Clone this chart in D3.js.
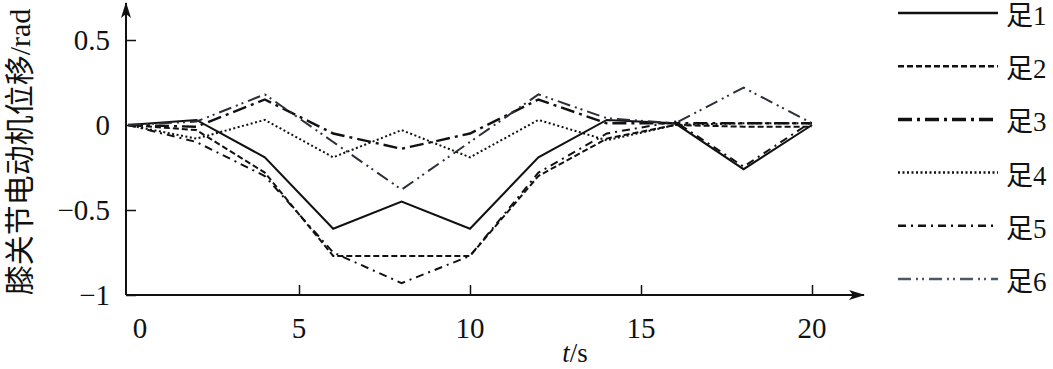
<!DOCTYPE html>
<html lang="zh">
<head>
<meta charset="UTF-8">
<title>膝关节电动机位移</title>
<script src="https://cdn.jsdelivr.net/npm/d3@7/dist/d3.min.js"></script>
<style>
  html, body { margin: 0; padding: 0; background: #fff; }
  text { font-family: "Liberation Serif", "Noto Sans CJK SC", serif; fill: #111; }
</style>
</head>
<body>
<svg id="chart" width="1053" height="369"></svg>
<script>
// time samples (s)
var times = [0, 2, 4, 6, 8, 10, 12, 14, 16, 18, 20];

// knee motor displacement per foot (rad)
var foot1 = [0, 0.03, -0.19, -0.61, -0.45, -0.61, -0.19, 0.03, 0.01, -0.26, 0];
var foot2 = [0, -0.03, -0.28, -0.77, -0.77, -0.77, -0.30, -0.08, 0.0, -0.01, -0.01];
var foot3 = [0, -0.01, 0.15, -0.05, -0.14, -0.05, 0.15, 0.01, 0.01, 0.01, 0.01];
var foot4 = [0, -0.08, 0.03, -0.19, -0.03, -0.19, 0.03, -0.09, 0.0, 0.01, 0.01];
var foot5 = [0, -0.10, -0.30, -0.75, -0.93, -0.77, -0.28, -0.05, 0.02, -0.245, 0.02];
var foot6 = [0, 0.02, 0.18, -0.10, -0.38, -0.10, 0.18, 0.04, 0.01, 0.22, 0.01];

var seriesNames = ["足1", "足2", "足3", "足4", "足5", "足6"];
var xTicks = [0, 5, 10, 15, 20];
var yTicks = [0.5, 0, -0.5, -1];

var allSeries = [foot1, foot2, foot3, foot4, foot5, foot6];

// line styles for each foot
var styles = [
  { dash: null,              width: 2,   color: "#111", key: "#111" },
  { dash: "6,3",             width: 2,   color: "#111", key: "#111" },
  { dash: "14,5,3,5",        width: 2.4, color: "#111", key: "#111" },
  { dash: "2,2.5",           width: 2,   color: "#111", key: "#111" },
  { dash: "8,5,2,5",         width: 2,   color: "#111", key: "#111" },
  { dash: "13,5,2,4,2,5",    width: 2,   color: "#2a2f38", key: "#4e5868" }
];

var svg = d3.select("#chart");

var x = d3.scaleLinear().domain([0, 20]).range([128, 812]);
var y = d3.scaleLinear().domain([-1, 0.5]).range([295, 40]);

var axisX0 = 126, axisY0 = 295;

// arrow marker
var defs = svg.append("defs");
defs.append("marker")
    .attr("id", "arrow")
    .attr("viewBox", "0 0 16 10")
    .attr("refX", 15).attr("refY", 5)
    .attr("markerWidth", 16).attr("markerHeight", 10)
    .attr("markerUnits", "userSpaceOnUse")
    .attr("orient", "auto")
  .append("path")
    .attr("d", "M0,0 L16,5 L0,10 L4,5 Z")
    .attr("fill", "#111");

// axes lines
svg.append("line")
    .attr("x1", axisX0).attr("y1", axisY0)
    .attr("x2", axisX0).attr("y2", 3)
    .attr("stroke", "#111").attr("stroke-width", 2)
    .attr("marker-end", "url(#arrow)");
svg.append("line")
    .attr("x1", axisX0).attr("y1", axisY0)
    .attr("x2", 864).attr("y2", axisY0)
    .attr("stroke", "#111").attr("stroke-width", 2)
    .attr("marker-end", "url(#arrow)");

// y axis ticks (inside)
var yAxis = d3.axisRight(y).tickValues(yTicks).tickSize(10).tickFormat("");
var gy = svg.append("g").attr("transform", "translate(" + axisX0 + ",0)").call(yAxis);
gy.select(".domain").remove();
gy.selectAll(".tick line").attr("stroke", "#111").attr("stroke-width", 1.5);

svg.selectAll(".ylab")
    .data(yTicks)
    .enter().append("text")
    .attr("class", "ylab")
    .attr("x", 110)
    .attr("y", function(d) { return y(d) + 10; })
    .attr("text-anchor", "end")
    .style("font-size", "29px")
    .text(function(d) { return d === 0 ? "0" : (d < 0 ? "\u2212" + Math.abs(d) : d); });

// x axis ticks (inside)
var xAxis = d3.axisTop(x).tickValues(xTicks.filter(function(d) { return d > 0; })).tickSize(10).tickFormat("");
var gx = svg.append("g").attr("transform", "translate(0," + axisY0 + ")").call(xAxis);
gx.select(".domain").remove();
gx.selectAll(".tick line").attr("stroke", "#111").attr("stroke-width", 1.5);

svg.selectAll(".xlab")
    .data(xTicks)
    .enter().append("text")
    .attr("class", "xlab")
    .attr("x", function(d) { return d === 0 ? x(d) + 12 : x(d); })
    .attr("y", 338)
    .attr("text-anchor", "middle")
    .style("font-size", "29px")
    .text(function(d) { return d; });

// axis titles
svg.append("text")
    .attr("x", 575).attr("y", 362)
    .attr("text-anchor", "middle")
    .style("font-size", "27px")
    .html('<tspan font-style="italic">t</tspan>/s');

svg.append("text")
    .attr("transform", "translate(30,152) rotate(-90)")
    .attr("text-anchor", "middle")
    .style("font-size", "30px")
    .text("膝关节电动机位移/rad");

// data lines
var line = d3.line()
    .x(function(d, i) { return x(times[i]); })
    .y(function(d) { return y(d); });

svg.selectAll(".foot")
    .data(allSeries)
    .enter().append("path")
    .attr("class", "foot")
    .attr("d", line)
    .attr("fill", "none")
    .attr("stroke", function(d, i) { return styles[i].color; })
    .attr("stroke-width", function(d, i) { return styles[i].width; })
    .attr("stroke-dasharray", function(d, i) { return styles[i].dash; })
    .attr("stroke-linejoin", "miter");

// legend
var legend = svg.selectAll(".legend")
    .data(seriesNames)
    .enter().append("g")
    .attr("class", "legend")
    .attr("transform", function(d, i) { return "translate(898," + (13 + i * 53.2) + ")"; });

legend.append("line")
    .attr("x1", 0).attr("x2", 100)
    .attr("y1", 0).attr("y2", 0)
    .attr("stroke", function(d, i) { return styles[i].key; })
    .attr("stroke-width", function(d, i) { return i === 2 ? 3.5 : 2.5; })
    .attr("stroke-dasharray", function(d, i) { return styles[i].dash; });

legend.append("text")
    .attr("x", 108).attr("y", 12)
    .style("font-size", "27px")
    .text(function(d) { return d; });
</script>
</body>
</html>
